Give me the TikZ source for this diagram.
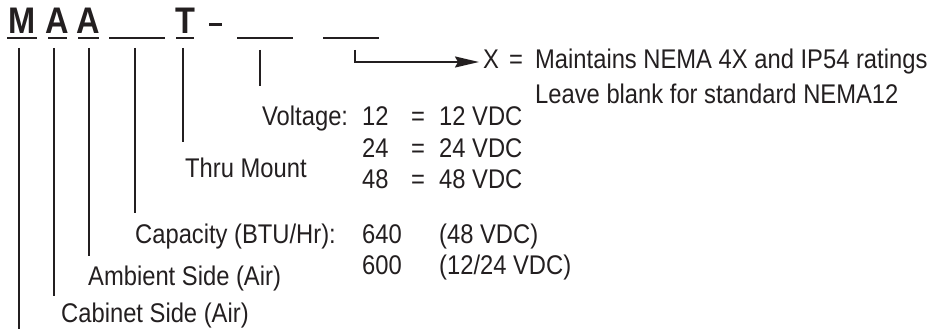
\documentclass[tikz,border=0pt]{standalone}
\usepackage{fontspec}
\setmainfont{Liberation Sans}[FakeStretch=0.88]
\usetikzlibrary{arrows.meta}
\definecolor{ink}{HTML}{231F20}
\tikzset{
	code/.style={font=\fontsize{37}{37}\selectfont\bfseries,inner sep=0pt,anchor=base,text=ink},
	txt/.style={font=\fontsize{27}{27}\selectfont,inner sep=0pt,anchor=base west,text=ink},
	bar/.style={draw=ink,line width=2.2pt},
	lead/.style={draw=ink,line width=2pt}
}

\begin{document}
\begin{tikzpicture}[x=1pt,y=-1pt]
	\useasboundingbox (0,0) rectangle (943,329);

	% part number
	\node [code] (m) at (22,34) {M};
	\node [code] (a1) at (57.5,34) {A};
	\node [code] (a2) at (88.5,34) {A};
	\node [code] (t) at (185,34) {T};
	\draw [bar] (7,38) -- (37,38);
	\draw [bar] (48,38) -- (67,38);
	\draw [bar] (78,38) -- (99,38);
	\draw [bar] (109,38) -- (165,38);
	\draw [bar] (176,38) -- (194,38);
	\draw [draw=ink,line width=3pt] (209,25) -- (222,25);
	\draw [bar] (237,38) -- (293,38);
	\draw [bar] (323,38) -- (379,38);

	% labels
	\node [txt] (cab) at (61,322) {Cabinet Side (Air)};
	\node [txt] (amb) at (88,285) {Ambient Side (Air)};
	\node [txt] (cap) at (135,243) {Capacity (BTU/Hr):};
	\node [txt] (cap1) at (362,243) {640};
	\node [txt] (cap1v) at (439,243) {(48 VDC)};
	\node [txt] (cap2) at (362,274) {600};
	\node [txt] (cap2v) at (439,274) {(12/24 VDC)};
	\node [txt] (thru) at (185,177) {Thru Mount};
	\node [txt] (volt) at (262,125) {Voltage:};
	\node [txt] (v12) at (362,125) {12};
	\node [txt] (e12) at (411,125) {=};
	\node [txt] (v12d) at (439,125) {12 VDC};
	\node [txt] (v24) at (362,157) {24};
	\node [txt] (e24) at (411,157) {=};
	\node [txt] (v24d) at (439,157) {24 VDC};
	\node [txt] (v48) at (362,188) {48};
	\node [txt] (e48) at (411,188) {=};
	\node [txt] (v48d) at (439,188) {48 VDC};
	\node [txt] (x) at (483,69) {X};
	\node [txt] (ex) at (509,69) {=};
	\node [txt] (nema) at (535,69) {Maintains NEMA 4X and IP54 ratings};
	\node [txt] (std) at (535,103) {Leave blank for standard NEMA12};

	% leaders
	\coordinate (mtop) at (19,48);
	\coordinate (mend) at (19,329);
	\coordinate (a1top) at (54,48);
	\coordinate (a1end) at (54,296);
	\coordinate (a2top) at (89,48);
	\coordinate (a2end) at (89,256);
	\coordinate (btop) at (135,48);
	\coordinate (bend) at (135,213);
	\coordinate (ttop) at (183,48);
	\coordinate (tend) at (183,142);
	\coordinate (vtop) at (260,50);
	\coordinate (vend) at (260,86);
	\coordinate (xtop) at (355,50);
	\coordinate (xtip) at (479,62);

	\draw [lead] (mtop) -- (mend);
	\draw [lead] (a1top) -- (a1end);
	\draw [lead] (a2top) -- (a2end);
	\draw [lead] (btop) -- (bend);
	\draw [lead] (ttop) -- (tend);
	\draw [lead] (vtop) -- (vend);
	\draw [lead,-{Stealth[length=24pt,width=11pt,inset=3pt]}] (xtop) |- (xtip);
\end{tikzpicture}
\end{document}
